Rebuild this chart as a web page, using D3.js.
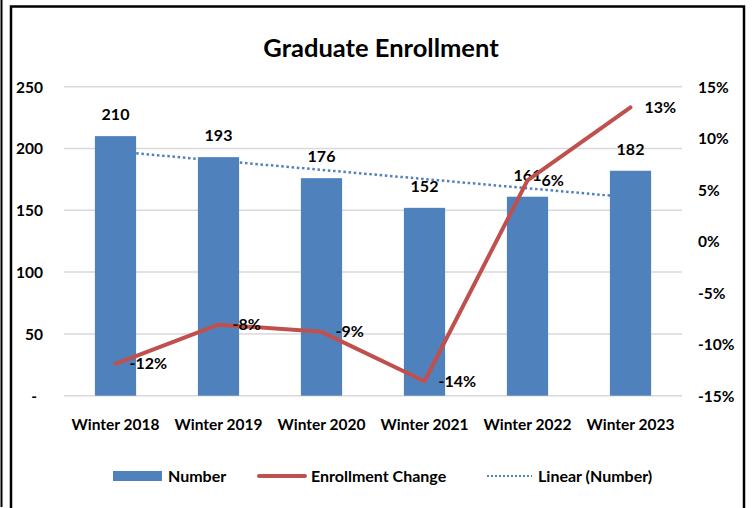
<!DOCTYPE html>
<html>
<head>
<meta charset="utf-8">
<script src="https://cdn.jsdelivr.net/npm/d3@7"></script>
<style>
  body { margin: 0; background: #fff; }
  svg text { font-family: Lato, "Liberation Sans", sans-serif; font-weight: 700; fill: #000; }
</style>
</head>
<body>
<div id="chart"></div>
<script>
// data
let categories = ["Winter 2018", "Winter 2019", "Winter 2020", "Winter 2021", "Winter 2022", "Winter 2023"];
let numbers = [210, 193, 176, 152, 161, 182];
let changes = [-0.119, -0.081, -0.088, -0.136, 0.059, 0.130];
let leftTicks = [0, 50, 100, 150, 200, 250];
let rightTicks = [-0.15, -0.10, -0.05, 0, 0.05, 0.10, 0.15];

let width = 752, height = 508;
let plot = {left: 64, right: 682, top: 86.7, bottom: 395.7};

// excel style percent, plain hyphen for minus
let pct = d => d3.format(".0%")(d).replace("\u2212", "-");

let svg = d3.select("#chart").append("svg")
    .attr("width", width)
    .attr("height", height);

// frame
svg.append("rect").attr("width", width).attr("height", height).attr("fill", "#fff");
svg.append("line")
    .attr("x1", 1.5).attr("x2", 1.5).attr("y1", 0).attr("y2", 507)
    .attr("stroke", "#000").attr("stroke-width", 2);
svg.append("rect")
    .attr("x", 11).attr("y", 6.5).attr("width", 733).attr("height", 520)
    .attr("fill", "none").attr("stroke", "#000").attr("stroke-width", 2.5);

let x = d3.scaleBand()
    .domain(categories)
    .range([plot.left, plot.right])
    .paddingInner(0.6)
    .paddingOuter(0.3);

let y = d3.scaleLinear().domain([0, 250]).range([plot.bottom, plot.top]);
let y2 = d3.scaleLinear().domain([-0.15, 0.15]).range([plot.bottom, plot.top]);

// title
svg.append("text")
    .attr("x", 381).attr("y", 57)
    .attr("text-anchor", "middle")
    .style("font-size", "25.5px")
    .text("Graduate Enrollment");

// gridlines
svg.append("g").selectAll("line")
    .data(leftTicks)
    .enter().append("line")
    .attr("x1", plot.left).attr("x2", plot.right)
    .attr("y1", d => y(d)).attr("y2", d => y(d))
    .attr("stroke", "#d9d9d9").attr("stroke-width", 1.5);

// left axis
let leftAxis = svg.append("g")
    .attr("transform", "translate(43,0)")
    .call(d3.axisLeft(y).tickValues(leftTicks).tickSize(0).tickPadding(0)
        .tickFormat(d => d === 0 ? "-" : d));
leftAxis.select(".domain").remove();
leftAxis.selectAll("text").style("font-size", "15.5px").attr("dy", "0.35em")
    .filter(d => d === 0).attr("x", -6);

// right axis
let rightAxis = svg.append("g")
    .attr("transform", "translate(698,0)")
    .call(d3.axisRight(y2).tickValues(rightTicks).tickSize(0).tickPadding(0)
        .tickFormat(pct));
rightAxis.select(".domain").remove();
rightAxis.selectAll("text").style("font-size", "15.5px").attr("dy", "0.35em");

// x axis
let bottomAxis = svg.append("g")
    .attr("transform", "translate(0," + plot.bottom + ")")
    .call(d3.axisBottom(x).tickSize(0).tickPadding(23));
bottomAxis.select(".domain").remove();
bottomAxis.selectAll("text").style("font-size", "15.5px");

// linear trend of the bars (least squares), behind the bars
let idx = numbers.map((d, i) => i + 1);
let mx = d3.mean(idx), my = d3.mean(numbers);
let slope = d3.sum(idx, (k, i) => (k - mx) * (numbers[i] - my)) / d3.sum(idx, k => (k - mx) * (k - mx));
let trend = categories.map((c, i) => ({cat: c, v: my + slope * (idx[i] - mx)}));
svg.append("path")
    .datum(trend)
    .attr("fill", "none")
    .attr("stroke", "#4f81bd")
    .attr("stroke-width", 2.5)
    .attr("stroke-dasharray", "2.5,2.7")
    .attr("d", d3.line().x(d => x(d.cat) + x.bandwidth() / 2).y(d => y(d.v)));

// bars
svg.selectAll(".bar")
    .data(numbers)
    .enter().append("rect")
    .attr("class", "bar")
    .attr("x", (d, i) => x(categories[i]))
    .attr("y", d => y(d))
    .attr("width", x.bandwidth())
    .attr("height", d => y(0) - y(d))
    .attr("fill", "#4f81bd");

svg.selectAll(".barlabel")
    .data(numbers)
    .enter().append("text")
    .attr("class", "barlabel")
    .attr("x", (d, i) => x(categories[i]) + x.bandwidth() / 2)
    .attr("y", d => y(d) - 16)
    .attr("text-anchor", "middle")
    .style("font-size", "16px")
    .text(d => d);

// enrollment change line
svg.append("path")
    .datum(changes)
    .attr("fill", "none")
    .attr("stroke", "#c0504d")
    .attr("stroke-width", 4)
    .attr("stroke-linejoin", "round")
    .attr("stroke-linecap", "round")
    .attr("d", d3.line().x((d, i) => x(categories[i]) + x.bandwidth() / 2).y(d => y2(d)));

svg.selectAll(".linelabel")
    .data(changes)
    .enter().append("text")
    .attr("class", "linelabel")
    .attr("x", (d, i) => x(categories[i]) + x.bandwidth() / 2 + 14)
    .attr("y", d => y2(d))
    .attr("dy", "0.35em")
    .style("font-size", "16px")
    .text(pct);

// legend
let legend = svg.append("g");
legend.append("rect")
    .attr("x", 113).attr("y", 471).attr("width", 49).attr("height", 10)
    .attr("fill", "#4f81bd");
legend.append("text").attr("x", 168).attr("y", 476).attr("dy", "0.35em")
    .style("font-size", "16px").text("Number");
legend.append("line")
    .attr("x1", 259).attr("x2", 305).attr("y1", 476).attr("y2", 476)
    .attr("stroke", "#c0504d").attr("stroke-width", 4).attr("stroke-linecap", "round");
legend.append("text").attr("x", 311).attr("y", 476).attr("dy", "0.35em")
    .style("font-size", "16px").text("Enrollment Change");
legend.append("line")
    .attr("x1", 487).attr("x2", 532).attr("y1", 476).attr("y2", 476)
    .attr("stroke", "#4f81bd").attr("stroke-width", 2)
    .attr("stroke-dasharray", "2,2");
legend.append("text").attr("x", 538).attr("y", 476).attr("dy", "0.35em")
    .style("font-size", "16px").text("Linear (Number)");
</script>
</body>
</html>
